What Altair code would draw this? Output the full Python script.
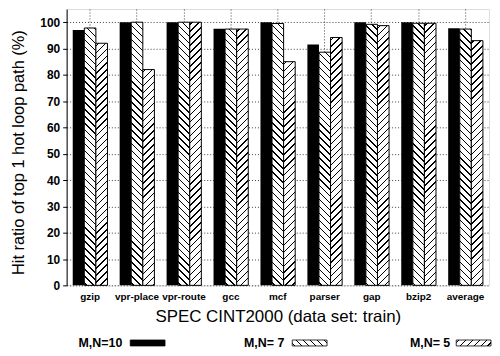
import altair as alt
import pandas as pd

categories = ["gzip", "vpr-place", "vpr-route", "gcc", "mcf", "parser", "gap", "bzip2", "average"]
series = ["M,N=10", "M,N= 7", "M,N= 5"]
mn10 = [97, 100, 100, 97.5, 100, 91.5, 100, 100, 97.7]
mn7 = [97.8, 100, 100, 97.4, 99.5, 88.6, 99.2, 99.6, 97.4]
mn5 = [92, 82, 100, 97.4, 85, 94.2, 98.7, 99.6, 93]
y_ticks = [0, 10, 20, 30, 40, 50, 60, 70, 80, 90, 100]

rows = []
for i, c in enumerate(categories):
    for s, vals in zip(series, [mn10, mn7, mn5]):
        rows.append({"bench": c, "config": s, "ratio": vals[i]})
df = pd.DataFrame(rows)

W, H = 425, 278
YMAX = 105
P_IN, P_OUT = 0.26, 0.13
FONT = "Liberation Sans"

step = W / (len(categories) - P_IN + 2 * P_OUT)
bar_w = step * (1 - P_IN) / 3
PERIOD = 7.0   # hatch period along x+y, px
LINE = 1.4     # hatch line thickness along x+y, px


def hatch(w, h, direction):
    k = (w + h) / (w * w + h * h)
    n = int((w + h) / PERIOD) + 2
    stops = [alt.GradientStop(color="white", offset=0.0)]
    for i in range(n):
        s = (i * PERIOD + 2.0) / (w + h)
        e = s + LINE / (w + h)
        if s >= 1:
            break
        e = min(e, 1.0)
        stops += [alt.GradientStop(color="white", offset=s),
                  alt.GradientStop(color="black", offset=s),
                  alt.GradientStop(color="black", offset=e),
                  alt.GradientStop(color="white", offset=e)]
    stops.append(alt.GradientStop(color="white", offset=1.0))
    if direction == "/":
        return alt.LinearGradient(gradient="linear", stops=stops, x1=0, y1=0, x2=w * k, y2=h * k)
    return alt.LinearGradient(gradient="linear", stops=stops, x1=0, y1=1, x2=w * k, y2=1 - h * k)


x_enc = alt.X("bench:N", sort=categories, title="SPEC CINT2000 (data set: train)",
              scale=alt.Scale(domain=categories, paddingInner=P_IN, paddingOuter=P_OUT),
              axis=alt.Axis(labelAngle=0, labelFont=FONT, labelFontSize=10, labelFontWeight="bold",
                            labelColor="black", ticks=False, labelPadding=6, domain=False,
                            grid=True, bandPosition=0.5, gridDash=[1, 2], gridColor="black",
                            gridOpacity=0.75, titleFont=FONT, titleFontSize=17, titleFontWeight="normal",
                            titleColor="black", titlePadding=7))
xo_enc = alt.XOffset("config:N", sort=series, scale=alt.Scale(domain=series, paddingInner=0, paddingOuter=0))
y_enc = alt.Y("ratio:Q", title="Hit ratio of top 1 hot loop path (%)",
              scale=alt.Scale(domain=[0, YMAX], nice=False, zero=True),
              axis=alt.Axis(values=y_ticks, labelFont=FONT, labelFontSize=12, labelFontWeight="bold",
                            labelColor="black", tickColor="black", tickSize=4, labelPadding=3,
                            labelOverlap=False, domainColor="black", grid=True, gridDash=[1, 2],
                            gridColor="black", gridOpacity=0.75, titleFont=FONT, titleFontSize=16.5,
                            titleFontWeight="normal", titleColor="black", titlePadding=13.5,
                            titleY=144))

base = alt.Chart(df)
layers = [base.mark_bar(color="black").encode(x=x_enc, xOffset=xo_enc, y=y_enc)
          .transform_filter(alt.datum.config == series[0])]

for s, vals, d in [(series[1], mn7, "\\"), (series[2], mn5, "/")]:
    for c, v in zip(categories, vals):
        h = v / YMAX * H
        layers.append(
            base.mark_bar(fill=hatch(bar_w, h, d), stroke="black", strokeWidth=1)
            .encode(x=x_enc, xOffset=xo_enc, y=y_enc)
            .transform_filter((alt.datum.config == s) & (alt.datum.bench == c))
        )

# custom legend below the x-axis title (positions relative to the plot's left edge)
leg = pd.DataFrame({"config": series})
LEG_Y = H + 58
leg_text_x = [56, 219, 386]
leg_rect_x = [64, 227, 392]
LW, LH = 35, 6
leg_fills = ["black", hatch(LW, LH, "\\"), hatch(LW, LH, "/")]
for s, tx, rx, f in zip(series, leg_text_x, leg_rect_x, leg_fills):
    layers.append(
        alt.Chart(leg).mark_text(align="right", baseline="middle", font=FONT, fontSize=12.5,
                                 fontWeight="bold", color="black")
        .encode(text="config:N", x=alt.value(tx), y=alt.value(LEG_Y))
        .transform_filter(alt.datum.config == s)
    )
    layers.append(
        alt.Chart(leg).mark_rect(fill=f, stroke="black", strokeWidth=0.8)
        .encode(x=alt.value(rx), x2=alt.value(rx + LW), y=alt.value(LEG_Y - LH / 2), y2=alt.value(LEG_Y + LH / 2))
        .transform_filter(alt.datum.config == s)
    )

chart = alt.layer(*layers).properties(
    width=W, height=H, padding={"left": 2, "top": 0, "right": 0, "bottom": 0}
).configure_view(stroke="black", strokeWidth=1).configure(background="white")

chart.save("out.html", embed_options={"renderer": "svg", "actions": False})
